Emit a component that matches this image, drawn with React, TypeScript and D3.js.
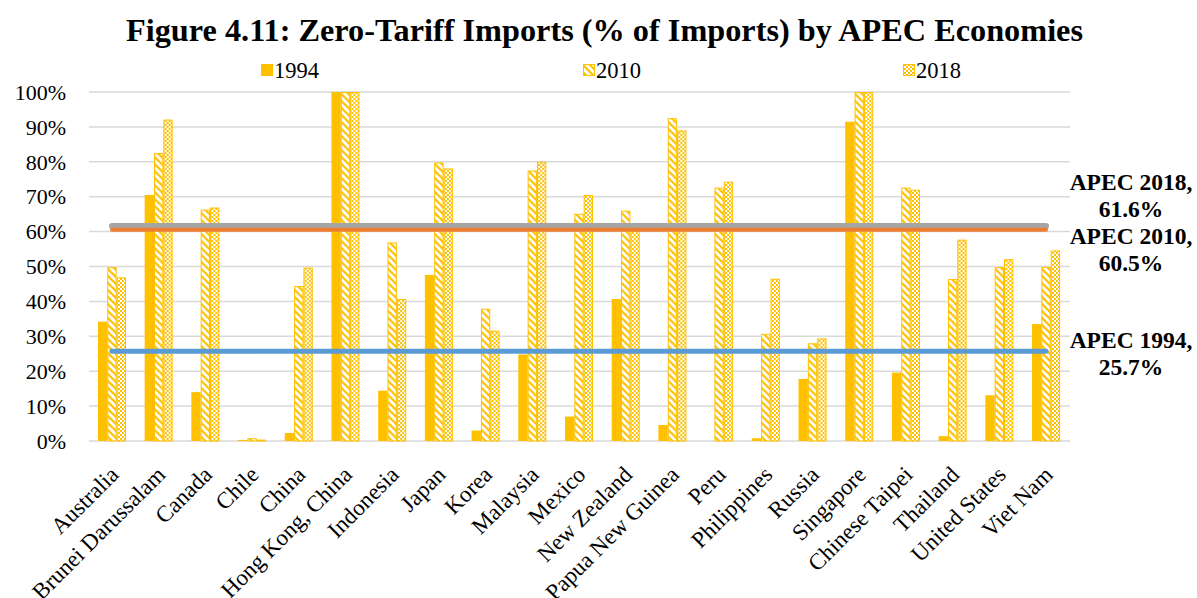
import * as d3 from "d3";

const economies = [
    "Australia", "Brunei Darussalam", "Canada", "Chile", "China", "Hong Kong, China",
    "Indonesia", "Japan", "Korea", "Malaysia", "Mexico", "New Zealand",
    "Papua New Guinea", "Peru", "Philippines", "Russia", "Singapore",
    "Chinese Taipei", "Thailand", "United States", "Viet Nam",
];
const seriesNames = ["1994", "2010", "2018"];
const v1994 = [34.2, 70.5, 14.0, 0.3, 2.3, 100, 14.4, 47.6, 3.0, 24.8, 7.0, 40.7, 4.6, 0, 0.8, 17.8, 91.5, 19.6, 1.4, 13.1, 33.5];
const v2010 = [49.8, 82.5, 66.3, 0.8, 44.4, 100, 56.9, 79.8, 37.9, 77.5, 65.1, 66.0, 92.5, 72.6, 30.7, 28.0, 100, 72.6, 46.4, 49.8, 49.9];
const v2018 = [46.9, 92.1, 66.9, 0.4, 49.7, 100, 40.7, 78.1, 31.6, 80.0, 70.5, 60.2, 89.0, 74.3, 46.5, 29.4, 100, 72.0, 57.7, 52.1, 54.6];
const yTicks = [0, 10, 20, 30, 40, 50, 60, 70, 80, 90, 100];
const apecYears = ["2018", "2010", "1994"];
const apecValues = [61.6, 60.5, 25.7];
const apecColors = ["#A5A5A5", "#ED7D31", "#5B9BD5"];

const width = 1197;
const height = 598;
const gold = "#FFC000";

const App = () => {
    const x = d3.scaleBand<string>().domain(economies).range([88.6, 1069.4]).paddingInner(0.4).paddingOuter(0.2);
    const xs = d3.scaleBand<string>().domain(seriesNames).range([0, x.bandwidth()]);
    const y = d3.scaleLinear().domain([0, 100]).range([441, 92]);
    const rows = economies.map((c, i) => ({ c, vals: [v1994[i], v2010[i], v2018[i]] }));
    const fills = [gold, "url(#diag)", "url(#check)"];
    const cx = (c: string) => x(c)! + x.bandwidth() / 2;
    const first = cx(economies[0]);
    const last = cx(economies[economies.length - 1]);
    const lineWidths = [6, 4, 5];

    return (
        <svg width={width} height={height} style={{ position: 'absolute', left: 0, top: 0 }} fontFamily="'Liberation Serif', 'Times New Roman', serif">
            <defs>
                <pattern id="diag" width={7} height={7} patternUnits="userSpaceOnUse">
                    <rect width={7} height={7} fill="#fff" />
                    <path d="M-1,-1 L8,8 M-1,6 L1,8 M6,-1 L8,1" stroke={gold} strokeWidth={2.2} />
                </pattern>
                <pattern id="check" width={4} height={4} patternUnits="userSpaceOnUse">
                    <rect width={4} height={4} fill="#fff" />
                    <rect width={2} height={2} fill={gold} />
                    <rect x={2} y={2} width={2} height={2} fill={gold} />
                </pattern>
            </defs>
            <rect width={width} height={height} fill="#fff" />
            <text x={604.5} y={41} textAnchor="middle" fontSize={31} fontWeight="bold" textLength={957} lengthAdjust="spacingAndGlyphs">
                Figure 4.11: Zero-Tariff Imports (% of Imports) by APEC Economies
            </text>
            {/* legend */}
            {seriesNames.map((s, i) => {
                const lx = [261, 583, 903][i];
                return (
                    <g key={s}>
                        <rect x={lx + 0.5} y={64.5} width={11} height={11} fill={fills[i]} stroke={gold} strokeWidth={1} />
                        <text x={lx + 13} y={78} fontSize={22.5}>{s}</text>
                    </g>
                );
            })}
            {/* grid */}
            {yTicks.map(t => (
                <g key={t}>
                    <line x1={89} x2={1070} y1={y(t)} y2={y(t)} stroke="#D9D9D9" strokeWidth={1.5} />
                    <text x={66} y={y(t)} dy="0.35em" textAnchor="end" fontSize={22}>{t}%</text>
                </g>
            ))}
            {/* bars */}
            {rows.map(r => (
                <g key={r.c} transform={`translate(${x(r.c)},0)`}>
                    {r.vals.map((v, i) => v > 0 && (
                        <rect
                            key={i}
                            x={xs(seriesNames[i])! + (i ? 0.5 : 0)}
                            y={y(v) + (i ? 0.5 : 0)}
                            width={xs.bandwidth() - (i ? 1 : 0)}
                            height={Math.max(0, y(0) - y(v) - (i ? 0.5 : 0))}
                            fill={fills[i]}
                            stroke={i ? gold : "none"}
                            strokeWidth={1}
                        />
                    ))}
                </g>
            ))}
            {/* APEC averages */}
            {apecValues.map((v, i) => (
                <line key={apecYears[i]} x1={first} x2={last} y1={y(v)} y2={y(v)} stroke={apecColors[i]} strokeWidth={lineWidths[i]} strokeLinecap="round" />
            ))}
            {apecValues.map((v, i) => {
                const by = [190, 244, 348][i];
                return (
                    <text key={apecYears[i]} x={1131} y={by} textAnchor="middle" fontSize={23.5} fontWeight="bold">
                        <tspan x={1131}>APEC {apecYears[i]},</tspan>
                        <tspan x={1131} dy={27}>{v.toFixed(1)}%</tspan>
                    </text>
                );
            })}
            {/* x labels */}
            {economies.map(c => (
                <text key={c} transform={`translate(${cx(c) + 8},476) rotate(-45)`} textAnchor="end" fontSize={23}>{c}</text>
            ))}
        </svg>
    );
};

export default App;
